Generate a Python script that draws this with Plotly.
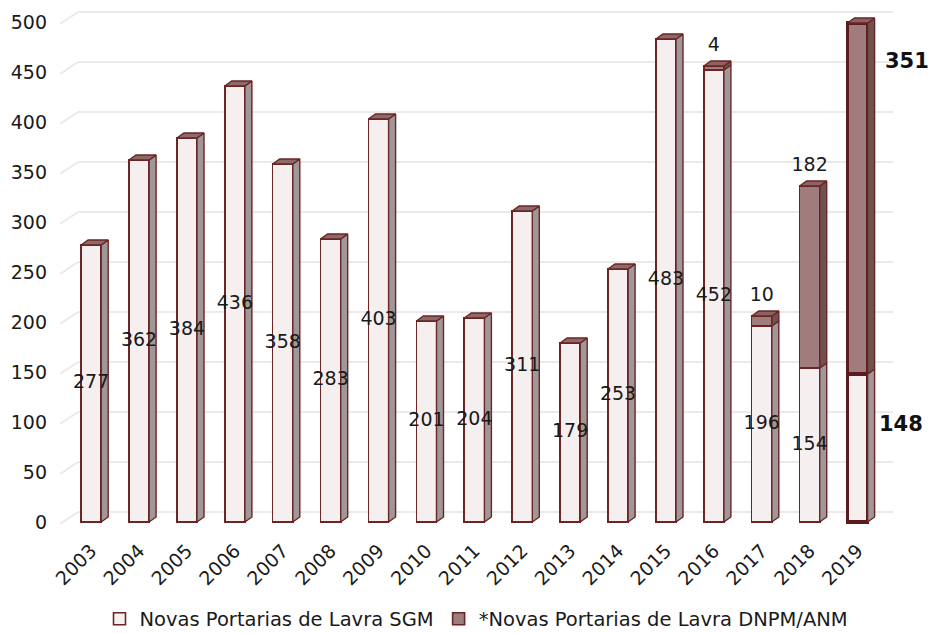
import plotly.graph_objects as go

years = [str(y) for y in range(2003, 2020)]
sgm = [277, 362, 384, 436, 358, 283, 403, 201, 204, 311, 179, 253, 483, 452, 196, 154, 148]
dnpm = [0, 0, 0, 0, 0, 0, 0, 0, 0, 0, 0, 0, 0, 4, 10, 182, 351]
yticks = list(range(0, 501, 50))

FONT = "DejaVu Sans"
BORDER = "#6B2525"
BORDER19 = "#5A1C1C"
SGM_FRONT = "#F5EFEF"
SGM_SIDE = "#A09898"
SGM_TOP = "#8C6A6A"
DN_FRONT = "#A07C7C"
DN_SIDE = "#6E5252"
DN_TOP = "#8A6464"

n = len(years)
xs = list(range(n))
W = 0.42      # front width (x units)
DX = 0.146    # depth offset x
DY = 5        # depth offset y
X0, X1 = -0.65, 16.74
GDX = 0.376

fig = go.Figure()

lw = [1.6] * (n - 1) + [3.2]
lc = [BORDER] * (n - 1) + [BORDER19]

fig.add_trace(go.Bar(x=xs, y=sgm, width=W, name="Novas Portarias de Lavra SGM",
                     marker=dict(color=SGM_FRONT, line=dict(color=lc, width=lw))))
fig.add_trace(go.Bar(x=xs, y=dnpm, width=W, name="*Novas Portarias de Lavra DNPM/ANM",
                     marker=dict(color=DN_FRONT, line=dict(color=lc, width=lw))))


def faces(bases, tops, top_flags):
    sx, sy, tx, ty = [], [], [], []
    for i in xs:
        y0, y1 = bases[i], tops[i]
        if y1 <= y0:
            continue
        r = i + W / 2
        l = i - W / 2
        sx += [r, r + DX, r + DX, r, r, None]
        sy += [y0, y0 + DY, y1 + DY, y1, y0, None]
        if top_flags[i]:
            tx += [l, l + DX, r + DX, r, l, None]
            ty += [y1, y1 + DY, y1 + DY, y1, y1, None]
    return sx, sy, tx, ty


tot = [a + b for a, b in zip(sgm, dnpm)]
sx, sy, tx, ty = faces([0] * n, sgm, [d == 0 for d in dnpm])
fig.add_trace(go.Scatter(x=sx, y=sy, fill="toself", fillcolor=SGM_SIDE, mode="lines",
                         line=dict(color=BORDER, width=1.4), showlegend=False, hoverinfo="skip"))
fig.add_trace(go.Scatter(x=tx, y=ty, fill="toself", fillcolor=SGM_TOP, mode="lines",
                         line=dict(color=BORDER, width=1.4), showlegend=False, hoverinfo="skip"))
sx, sy, tx, ty = faces(sgm, tot, [True] * n)
fig.add_trace(go.Scatter(x=sx, y=sy, fill="toself", fillcolor=DN_SIDE, mode="lines",
                         line=dict(color=BORDER, width=1.4), showlegend=False, hoverinfo="skip"))
fig.add_trace(go.Scatter(x=tx, y=ty, fill="toself", fillcolor=DN_TOP, mode="lines",
                         line=dict(color=BORDER, width=1.4), showlegend=False, hoverinfo="skip"))

# value labels
lab_x = xs[:-1]
fig.add_trace(go.Scatter(x=lab_x, y=[v / 2 for v in sgm[:-1]], mode="text",
                         text=[str(v) for v in sgm[:-1]],
                         textfont=dict(family=FONT, size=19, color="#1A1A1A"),
                         showlegend=False, hoverinfo="skip", cliponaxis=False))
dl_x = [i for i in xs[:-1] if dnpm[i] > 0]
fig.add_trace(go.Scatter(x=dl_x, y=[tot[i] + DY + 15 for i in dl_x], mode="text",
                         text=[str(dnpm[i]) for i in dl_x],
                         textfont=dict(family=FONT, size=19, color="#1A1A1A"),
                         showlegend=False, hoverinfo="skip", cliponaxis=False))

# back-wall gridlines
shapes = []
for v in yticks:
    shapes.append(dict(type="line", xref="x", yref="y", x0=X0, x1=X0 + GDX, y0=v - 2, y1=v + 10,
                       line=dict(color="#EFE8E8", width=2), layer="below"))
    shapes.append(dict(type="line", xref="x", yref="y", x0=X0 + GDX, x1=X1, y0=v + 10, y1=v + 10,
                       line=dict(color="#EFE8E8", width=2), layer="below"))

annotations = [
    dict(xref="paper", yref="paper", x=1.0168, y=0.892, xanchor="center", yanchor="middle",
         text="<b>%d</b>" % dnpm[-1],
         showarrow=False, font=dict(family=FONT, size=21, color="#111111")),
    dict(xref="paper", yref="paper", x=1.0096, y=0.194, xanchor="center", yanchor="middle",
         text="<b>%d</b>" % sgm[-1],
         showarrow=False, font=dict(family=FONT, size=21, color="#111111")),
]

fig.update_layout(
    width=929, height=634,
    margin=dict(l=60, r=36, t=5, b=109, autoexpand=False),
    barmode="stack",
    paper_bgcolor="white", plot_bgcolor="white",
    font=dict(family=FONT, size=19, color="#1A1A1A"),
    shapes=shapes, annotations=annotations,
    legend=dict(orientation="h", x=0.5, xanchor="center", y=-0.181, yanchor="middle",
                font=dict(family=FONT, size=19.5, color="#1A1A1A"), traceorder="normal",
                itemwidth=30, tracegroupgap=0),
    xaxis=dict(range=[X0, X1], tickvals=xs, ticktext=years, tickangle=-45, automargin=False,
               showgrid=False, zeroline=False, showline=False, ticks="",
               ticklabelstandoff=10, tickfont=dict(family=FONT, size=19, color="#1A1A1A")),
    yaxis=dict(range=[-3, 517], tickvals=yticks, showgrid=False, zeroline=False, automargin=False,
               showline=False, ticks="", ticklabelstandoff=12,
               tickfont=dict(family=FONT, size=19, color="#1A1A1A")),
)

fig.write_html("out.html")
